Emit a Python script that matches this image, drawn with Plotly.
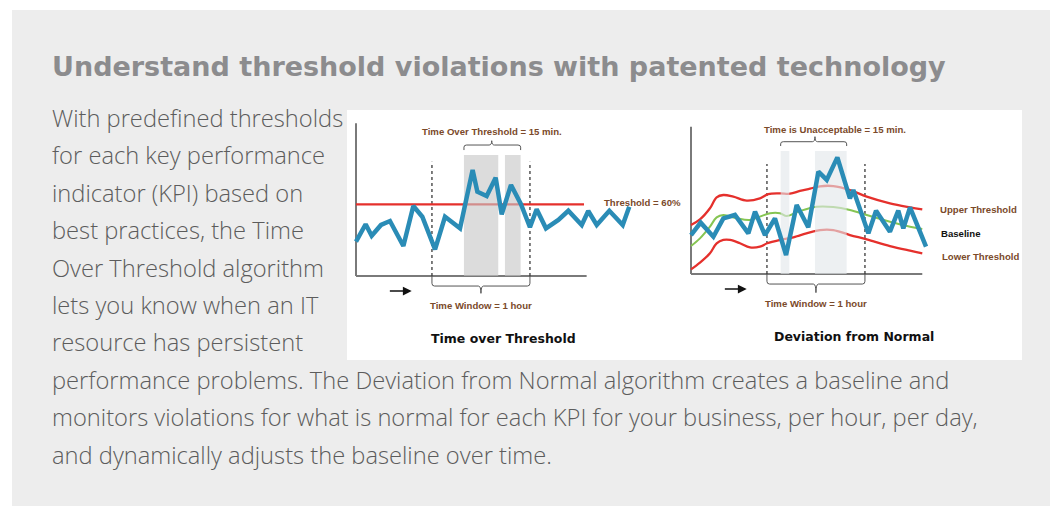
import plotly.graph_objects as go

# The page body has an 8px margin, so the figure is placed at (8, 8)
OFF = 8
W, H = 1058 - OFF, 506 - OFF

# ---------------- data ----------------
# Left chart "Time over Threshold": x = minutes, y = % of resource used
tot_minutes = [0, 5.9, 9.6, 15.3, 20.8, 29.0, 35.1, 40.6, 48.4, 54.5, 63.7, 71.4, 74.3, 80.0, 85.5,
               89.2, 94.9, 101.0, 106.5, 110.6, 116.3, 123.9, 130.0, 138.2, 142.2, 147.4, 155.1,
               163.3, 167.3]
tot_values = [28.7, 43.3, 33.7, 42.7, 46.0, 25.1, 58.6, 49.6, 22.3, 49.6, 39.9, 88.7, 70.5, 66.9,
              82.3, 51.6, 76.2, 60.0, 40.8, 55.8, 39.9, 46.9, 54.6, 42.7, 54.4, 42.7, 54.6, 42.7, 58.0]
tot_threshold = 60
tot_threshold_span = [0, 139.6]
tot_over_spans = [(66.1, 87.1), (91.2, 100.8)]
tot_axis_len = [141.2, 127.8]

# Right chart "Deviation from Normal"
dev_minutes = [0, 5.9, 13.7, 19.8, 26.9, 35.1, 39.2, 45.3, 51.4, 58.2, 64.7, 71.8, 78.0, 83.1,
               89.6, 97.3, 99.4, 108.6, 113.3, 121.8, 126.9, 130.0, 134.1, 143.9]
dev_values = [32.6, 43.0, 31.2, 46.6, 49.4, 34.0, 52.2, 32.6, 46.6, 15.9, 57.7, 39.1, 85.6, 78.7,
              97.6, 63.3, 70.3, 34.0, 53.0, 35.4, 53.0, 38.2, 55.8, 22.9]
upper_minutes = [0, 5.5, 11.6, 15.7, 19.8, 25.9, 34.1, 42.2, 47.3, 54.5, 60.6, 66.7, 72.9, 79.0,
                 87.1, 97.3, 107.6, 121.8, 134.1, 141.6]
upper_values = [41.0, 45.7, 55.0, 64.2, 66.1, 64.7, 61.4, 63.3, 66.9, 67.5, 67.2, 69.5, 71.4, 73.4,
                73.6, 70.3, 64.7, 59.1, 55.8, 54.1]
base_minutes = [0, 5.5, 11.6, 15.7, 19.8, 28.0, 36.1, 42.2, 48.4, 54.5, 58.6, 66.7, 76.9, 87.1,
                97.3, 107.6, 121.8, 134.1, 141.6]
base_values = [23.4, 29.8, 39.6, 47.4, 49.4, 46.6, 45.2, 48.0, 50.8, 50.8, 48.5, 52.7, 56.3, 56.1,
               53.6, 49.4, 43.8, 39.6, 37.7]
lower_minutes = [0, 5.5, 11.6, 15.7, 19.8, 23.9, 30.0, 36.1, 42.2, 46.7, 54.5, 62.7, 66.7, 79.0,
                 87.1, 97.3, 107.6, 121.8, 134.1, 141.6]
lower_values = [3.9, 9.5, 17.3, 25.7, 28.5, 28.5, 25.7, 22.3, 22.9, 25.7, 28.5, 30.7, 32.4, 36.8,
                36.8, 32.6, 29.0, 23.4, 19.5, 17.3]
dev_bad_spans = [(54.9, 60.2), (75.9, 95.3)]
dev_axis_len = [141.6, 123.3]

window = [46.5, 106.5]  # 1 hour window

title_text = "Understand threshold violations with patented technology"
body_lines = [
    "With predefined thresholds",
    "for each key performance",
    "indicator (KPI) based on",
    "best practices, the Time",
    "Over Threshold algorithm",
    "lets you know when an IT",
    "resource has persistent",
    "performance problems. The Deviation from Normal algorithm creates a baseline and",
    "monitors violations for what is normal for each KPI for your business, per hour, per day,",
    "and dynamically adjusts the baseline over time.",
]

# ---------------- layout helpers ----------------
K = 4.9 / 3      # px per minute
S = 3.585 / 3    # px per percent
BLUE = "#2a8cb6"
RED = "#e5302c"
GREEN = "#86c553"
BROWN = "#7b4a2a"
NARROW = "Liberation Sans Narrow, Arial Narrow, Liberation Sans, Arial"

fig = go.Figure()


def px(v):
    return (v - OFF) / W


def py(v):
    return 1 - (v - OFF) / H


def rect_xy(a, b, top):
    return [a, b, b, a, a], [0, 0, top, top, 0]


# left chart traces
fig.add_trace(go.Scatter(x=tot_threshold_span, y=[tot_threshold] * 2, mode="lines",
                         line=dict(color=RED, width=2.2), xaxis="x", yaxis="y", hoverinfo="skip"))
for a, b in tot_over_spans:
    xs, ys = rect_xy(a, b, 101.3)
    fig.add_trace(go.Scatter(x=xs, y=ys, fill="toself", mode="none",
                             fillcolor="rgba(198,198,198,0.62)", xaxis="x", yaxis="y", hoverinfo="skip"))
fig.add_trace(go.Scatter(x=tot_minutes, y=tot_values, mode="lines",
                         line=dict(color=BLUE, width=4.5), xaxis="x", yaxis="y", hoverinfo="skip"))

# right chart traces
fig.add_trace(go.Scatter(x=upper_minutes, y=upper_values, mode="lines", line_shape="spline",
                         line=dict(color=RED, width=2.3), xaxis="x2", yaxis="y2", hoverinfo="skip"))
fig.add_trace(go.Scatter(x=lower_minutes, y=lower_values, mode="lines", line_shape="spline",
                         line=dict(color=RED, width=2.3), xaxis="x2", yaxis="y2", hoverinfo="skip"))
fig.add_trace(go.Scatter(x=base_minutes, y=base_values, mode="lines", line_shape="spline",
                         line=dict(color=GREEN, width=2), xaxis="x2", yaxis="y2", hoverinfo="skip"))
for a, b in dev_bad_spans:
    xs, ys = rect_xy(a, b, 102.9)
    fig.add_trace(go.Scatter(x=xs, y=ys, fill="toself", mode="none",
                             fillcolor="rgba(226,230,234,0.62)", xaxis="x2", yaxis="y2", hoverinfo="skip"))
fig.add_trace(go.Scatter(x=dev_minutes, y=dev_values, mode="lines",
                         line=dict(color=BLUE, width=4.5), xaxis="x2", yaxis="y2", hoverinfo="skip"))


def brace(x0, x1, xm, yend, yh, ytip, rx=1.6, ry=2.3):
    d = 1 if ytip > yh else -1
    return (f"M {x0},{yend} L {x0},{yh - d * ry} Q {x0},{yh} {x0 + rx},{yh} "
            f"L {xm - rx},{yh} Q {xm},{yh} {xm},{ytip} Q {xm},{yh} {xm + rx},{yh} "
            f"L {x1 - rx},{yh} Q {x1},{yh} {x1},{yh - d * ry} L {x1},{yend}")


shapes = [
    dict(type="rect", xref="paper", yref="paper", x0=px(12), x1=px(1052), y0=py(506), y1=py(10),
         fillcolor="#ededed", line_width=0, layer="below"),
    dict(type="rect", xref="paper", yref="paper", x0=px(347), x1=px(1022), y0=py(360), y1=py(110),
         fillcolor="#ffffff", line_width=0, layer="below"),
]

for xr, yr, ax_len, dash_top, bottom, top in [
        ("x", "y", tot_axis_len, 95.7, (-8.4, -14.5), (66.1, 100.8, 83.1, 105.4, 109.6, 113.2)),
        ("x2", "y2", dev_axis_len, 92.1, (-8.4, -15.6), (54.9, 95.3, 75.9, 107.1, 110.7, 114.9))]:
    shapes += [
        dict(type="line", xref=xr, yref=yr, x0=0, x1=0, y0=0, y1=ax_len[1],
             line=dict(color="#7a7a7a", width=2), layer="below"),
        dict(type="line", xref=xr, yref=yr, x0=0, x1=ax_len[0], y0=0, y1=0,
             line=dict(color="#7a7a7a", width=2), layer="below"),
    ]
    for wx in window:
        shapes.append(dict(type="line", xref=xr, yref=yr, x0=wx, x1=wx, y0=0, y1=dash_top,
                           line=dict(color="#3a3a3a", width=1.3, dash="3px,3px"), layer="below"))
    shapes.append(dict(type="path", xref=xr, yref=yr,
                       path=brace(window[0], window[1], (window[0] + window[1]) / 2, 0, bottom[0], bottom[1]),
                       line=dict(color="#555555", width=1), layer="below"))
    shapes.append(dict(type="path", xref=xr, yref=yr,
                       path=brace(*top, rx=1.6, ry=1.8),
                       line=dict(color="#555555", width=1), layer="below"))

annotations = [
    dict(xref="paper", yref="paper", x=px(50), y=py(66), xanchor="left", yanchor="middle",
         text=title_text, showarrow=False,
         font=dict(family="DejaVu Sans", size=27, color="#8c8c8e", weight=700)),
]
for i, line in enumerate(body_lines):
    annotations.append(dict(xref="paper", yref="paper", x=px(50), y=py(118 + i * 37.4),
                            xanchor="left", yanchor="middle", text=line, showarrow=False,
                            font=dict(family="Open Sans", size=23.7, color="#5c5c5c", weight=300)))

brown_font = dict(family=NARROW, size=9.6, color=BROWN, weight=700)
for xr, yr, top_text, top_x, title, title_x in [
        ("x", "y", "Time Over Threshold = 15 min.", 83.5, "Time over Threshold", 90.2),
        ("x2", "y2", "Time is Unacceptable = 15 min.", 88.2, "Deviation from Normal", 99.8)]:
    annotations += [
        dict(xref=xr, yref=yr, x=top_x, y=121.3, text=top_text, showarrow=False, font=brown_font),
        dict(xref=xr, yref=yr, x=76.4, y=-25.1, text="Time Window = 1 hour", showarrow=False,
             font=brown_font),
        dict(xref=xr, yref=yr, x=title_x, y=-52.3, text=title, showarrow=False,
             font=dict(family="DejaVu Sans", size=12.5, color="#111111", weight=700)),
        dict(xref=xr, yref=yr, x=34.1, y=-12.6, ax=19.8, ay=-12.6, axref=xr, ayref=yr, text="",
             showarrow=True, arrowhead=2, arrowsize=1.1, arrowwidth=1.6, arrowcolor="#111111"),
    ]

annotations += [
    dict(xref="x", yref="y", x=150.4, y=61.6, xanchor="left", text="Threshold = 60%",
         showarrow=False, font=brown_font),
    dict(xref="x2", yref="y2", x=151.4, y=54.1, xanchor="left", text="Upper Threshold",
         showarrow=False, font=brown_font),
    dict(xref="x2", yref="y2", x=152.0, y=33.5, xanchor="left", text="Baseline",
         showarrow=False, font=dict(family=NARROW, size=9.6, color="#111111", weight=700)),
    dict(xref="x2", yref="y2", x=152.4, y=14.5, xanchor="left", text="Lower Threshold",
         showarrow=False, font=brown_font),
]

axis_common = dict(visible=False, fixedrange=True, showgrid=False, zeroline=False)
fig.update_layout(
    width=W, height=H, margin=dict(l=0, r=0, t=0, b=0),
    paper_bgcolor="#ffffff", plot_bgcolor="rgba(0,0,0,0)", showlegend=False,
    xaxis=dict(domain=[px(347), px(684)], range=[(347 - 356) / K, (684 - 356) / K], **axis_common),
    yaxis=dict(domain=[py(360), py(110)], range=[(276 - 360) / S, (276 - 110) / S], **axis_common),
    xaxis2=dict(domain=[px(684), px(1022)], range=[(684 - 691) / K, (1022 - 691) / K], **axis_common),
    yaxis2=dict(domain=[py(360), py(110)], range=[(274 - 360) / S, (274 - 110) / S],
                anchor="x2", **axis_common),
    shapes=shapes, annotations=annotations,
)

fig.write_html("out.html")
